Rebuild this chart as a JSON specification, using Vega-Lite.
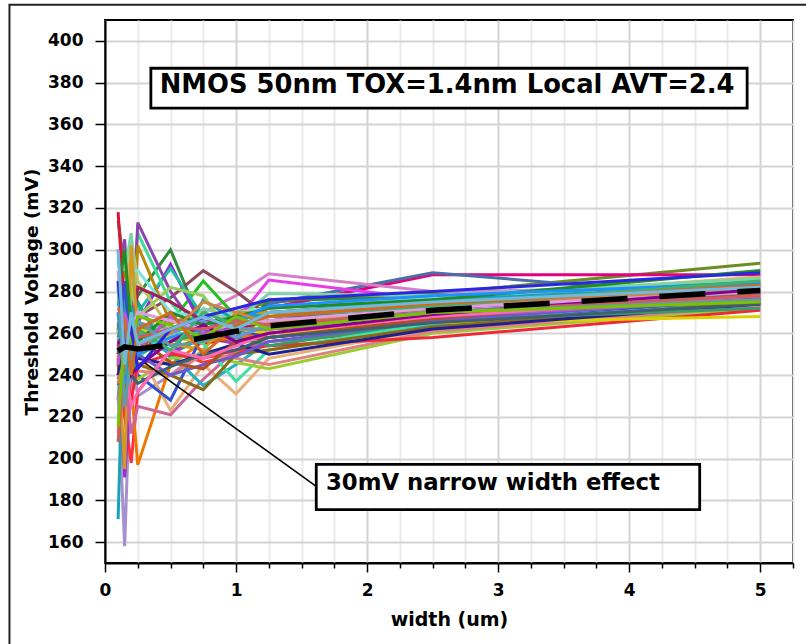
{
"$schema":"https://vega.github.io/schema/vega-lite/v6.json",
"width":688,"height":543,
"autosize":{"type":"none"},
"padding":{"left":105,"top":20,"right":13,"bottom":81},
"background":"white",
"config":{"view":{"stroke":"#000","strokeWidth":2},"font":"DejaVu Sans"},
"datasets":{
"curves":[
{"s":"s01","x":0.1,"v":240},{"s":"s01","x":0.15,"v":250},{"s":"s01","x":0.2,"v":270},{"s":"s01","x":0.25,"v":262},{"s":"s01","x":0.5,"v":265},{"s":"s01","x":0.75,"v":268},{"s":"s01","x":1,"v":270},{"s":"s01","x":1.25,"v":275},{"s":"s01","x":2.5,"v":279},{"s":"s01","x":5,"v":293.5},
{"s":"s02","x":0.1,"v":262},{"s":"s02","x":0.15,"v":245},{"s":"s02","x":0.2,"v":258},{"s":"s02","x":0.25,"v":250},{"s":"s02","x":0.5,"v":262},{"s":"s02","x":0.75,"v":265},{"s":"s02","x":1,"v":268},{"s":"s02","x":1.25,"v":272},{"s":"s02","x":2.5,"v":288},{"s":"s02","x":5,"v":288},
{"s":"s03","x":0.1,"v":240},{"s":"s03","x":0.15,"v":262},{"s":"s03","x":0.2,"v":248},{"s":"s03","x":0.25,"v":255},{"s":"s03","x":0.5,"v":258},{"s":"s03","x":0.75,"v":262},{"s":"s03","x":1,"v":264},{"s":"s03","x":1.25,"v":274},{"s":"s03","x":2.5,"v":289},{"s":"s03","x":5,"v":276},
{"s":"s04","x":0.1,"v":258},{"s":"s04","x":0.15,"v":268},{"s":"s04","x":0.2,"v":250},{"s":"s04","x":0.25,"v":265},{"s":"s04","x":0.5,"v":262},{"s":"s04","x":0.75,"v":270},{"s":"s04","x":1,"v":278},{"s":"s04","x":1.25,"v":288.5},{"s":"s04","x":2.5,"v":280},{"s":"s04","x":5,"v":282},
{"s":"s05","x":0.1,"v":255},{"s":"s05","x":0.15,"v":240},{"s":"s05","x":0.2,"v":262},{"s":"s05","x":0.25,"v":258},{"s":"s05","x":0.5,"v":260},{"s":"s05","x":0.75,"v":258},{"s":"s05","x":1,"v":266},{"s":"s05","x":1.25,"v":285.5},{"s":"s05","x":2.5,"v":276},{"s":"s05","x":5,"v":279},
{"s":"s06","x":0.1,"v":314},{"s":"s06","x":0.15,"v":290},{"s":"s06","x":0.2,"v":270},{"s":"s06","x":0.25,"v":278},{"s":"s06","x":0.5,"v":300},{"s":"s06","x":0.75,"v":262},{"s":"s06","x":1,"v":258},{"s":"s06","x":1.25,"v":276},{"s":"s06","x":2.5,"v":277},{"s":"s06","x":5,"v":285},
{"s":"s07","x":0.1,"v":250},{"s":"s07","x":0.15,"v":285},{"s":"s07","x":0.2,"v":262},{"s":"s07","x":0.25,"v":268},{"s":"s07","x":0.5,"v":277},{"s":"s07","x":0.75,"v":290},{"s":"s07","x":1,"v":280},{"s":"s07","x":1.25,"v":268},{"s":"s07","x":2.5,"v":270},{"s":"s07","x":5,"v":278},
{"s":"s08","x":0.1,"v":270},{"s":"s08","x":0.15,"v":252},{"s":"s08","x":0.2,"v":246},{"s":"s08","x":0.25,"v":258},{"s":"s08","x":0.5,"v":265},{"s":"s08","x":0.75,"v":285},{"s":"s08","x":1,"v":268},{"s":"s08","x":1.25,"v":270},{"s":"s08","x":2.5,"v":274},{"s":"s08","x":5,"v":283},
{"s":"s09","x":0.1,"v":300},{"s":"s09","x":0.15,"v":262},{"s":"s09","x":0.2,"v":280},{"s":"s09","x":0.25,"v":265},{"s":"s09","x":0.5,"v":293},{"s":"s09","x":0.75,"v":262},{"s":"s09","x":1,"v":256},{"s":"s09","x":1.25,"v":262},{"s":"s09","x":2.5,"v":268},{"s":"s09","x":5,"v":276},
{"s":"s10","x":0.1,"v":228},{"s":"s10","x":0.15,"v":276},{"s":"s10","x":0.2,"v":258},{"s":"s10","x":0.25,"v":270},{"s":"s10","x":0.5,"v":291},{"s":"s10","x":0.75,"v":268},{"s":"s10","x":1,"v":262},{"s":"s10","x":1.25,"v":270},{"s":"s10","x":2.5,"v":275},{"s":"s10","x":5,"v":282},
{"s":"s11","x":0.1,"v":296},{"s":"s11","x":0.15,"v":270},{"s":"s11","x":0.2,"v":275},{"s":"s11","x":0.25,"v":308},{"s":"s11","x":0.5,"v":275},{"s":"s11","x":0.75,"v":256},{"s":"s11","x":1,"v":262},{"s":"s11","x":1.25,"v":266},{"s":"s11","x":2.5,"v":270},{"s":"s11","x":5,"v":279},
{"s":"s12","x":0.1,"v":282},{"s":"s12","x":0.15,"v":305},{"s":"s12","x":0.2,"v":248},{"s":"s12","x":0.25,"v":313},{"s":"s12","x":0.5,"v":280},{"s":"s12","x":0.75,"v":258},{"s":"s12","x":1,"v":255},{"s":"s12","x":1.25,"v":264},{"s":"s12","x":2.5,"v":272},{"s":"s12","x":5,"v":281},
{"s":"s13","x":0.1,"v":260},{"s":"s13","x":0.15,"v":300},{"s":"s13","x":0.2,"v":240},{"s":"s13","x":0.25,"v":302},{"s":"s13","x":0.5,"v":265},{"s":"s13","x":0.75,"v":270},{"s":"s13","x":1,"v":256},{"s":"s13","x":1.25,"v":270},{"s":"s13","x":2.5,"v":273},{"s":"s13","x":5,"v":284},
{"s":"s14","x":0.1,"v":288},{"s":"s14","x":0.15,"v":260},{"s":"s14","x":0.2,"v":306},{"s":"s14","x":0.25,"v":285},{"s":"s14","x":0.5,"v":262},{"s":"s14","x":0.75,"v":270},{"s":"s14","x":1,"v":264},{"s":"s14","x":1.25,"v":268},{"s":"s14","x":2.5,"v":276},{"s":"s14","x":5,"v":287},
{"s":"s15","x":0.1,"v":300},{"s":"s15","x":0.15,"v":290},{"s":"s15","x":0.2,"v":308},{"s":"s15","x":0.25,"v":270},{"s":"s15","x":0.5,"v":258},{"s":"s15","x":0.75,"v":272},{"s":"s15","x":1,"v":266},{"s":"s15","x":1.25,"v":279},{"s":"s15","x":2.5,"v":278},{"s":"s15","x":5,"v":286},
{"s":"s16","x":0.1,"v":318},{"s":"s16","x":0.15,"v":270},{"s":"s16","x":0.2,"v":255},{"s":"s16","x":0.25,"v":250},{"s":"s16","x":0.5,"v":262},{"s":"s16","x":0.75,"v":255},{"s":"s16","x":1,"v":258},{"s":"s16","x":1.25,"v":262},{"s":"s16","x":2.5,"v":265},{"s":"s16","x":5,"v":274},
{"s":"s17","x":0.1,"v":276},{"s":"s17","x":0.15,"v":262},{"s":"s17","x":0.2,"v":290},{"s":"s17","x":0.25,"v":290},{"s":"s17","x":0.5,"v":270},{"s":"s17","x":0.75,"v":268},{"s":"s17","x":1,"v":270},{"s":"s17","x":1.25,"v":272},{"s":"s17","x":2.5,"v":277},{"s":"s17","x":5,"v":281},
{"s":"s18","x":0.1,"v":262},{"s":"s18","x":0.15,"v":281},{"s":"s18","x":0.2,"v":250},{"s":"s18","x":0.25,"v":275},{"s":"s18","x":0.5,"v":248},{"s":"s18","x":0.75,"v":276},{"s":"s18","x":1,"v":266},{"s":"s18","x":1.25,"v":270},{"s":"s18","x":2.5,"v":273},{"s":"s18","x":5,"v":280},
{"s":"s19","x":0.1,"v":252},{"s":"s19","x":0.15,"v":272},{"s":"s19","x":0.2,"v":282},{"s":"s19","x":0.25,"v":268},{"s":"s19","x":0.5,"v":282},{"s":"s19","x":0.75,"v":278},{"s":"s19","x":1,"v":256},{"s":"s19","x":1.25,"v":262},{"s":"s19","x":2.5,"v":269},{"s":"s19","x":5,"v":277},
{"s":"s20","x":0.1,"v":268},{"s":"s20","x":0.15,"v":280},{"s":"s20","x":0.2,"v":255},{"s":"s20","x":0.25,"v":282},{"s":"s20","x":0.5,"v":275},{"s":"s20","x":0.75,"v":266},{"s":"s20","x":1,"v":262},{"s":"s20","x":1.25,"v":266},{"s":"s20","x":2.5,"v":272},{"s":"s20","x":5,"v":280},
{"s":"s21","x":0.1,"v":230},{"s":"s21","x":0.15,"v":158},{"s":"s21","x":0.2,"v":250},{"s":"s21","x":0.25,"v":230},{"s":"s21","x":0.5,"v":240},{"s":"s21","x":0.75,"v":252},{"s":"s21","x":1,"v":250},{"s":"s21","x":1.25,"v":258},{"s":"s21","x":2.5,"v":266},{"s":"s21","x":5,"v":276},
{"s":"s22","x":0.1,"v":171},{"s":"s22","x":0.15,"v":280},{"s":"s22","x":0.2,"v":272},{"s":"s22","x":0.25,"v":265},{"s":"s22","x":0.5,"v":250},{"s":"s22","x":0.75,"v":258},{"s":"s22","x":1,"v":268},{"s":"s22","x":1.25,"v":270},{"s":"s22","x":2.5,"v":276},{"s":"s22","x":5,"v":283},
{"s":"s23","x":0.1,"v":245},{"s":"s23","x":0.15,"v":220},{"s":"s23","x":0.2,"v":198},{"s":"s23","x":0.25,"v":232},{"s":"s23","x":0.5,"v":252},{"s":"s23","x":0.75,"v":246},{"s":"s23","x":1,"v":250},{"s":"s23","x":1.25,"v":256},{"s":"s23","x":2.5,"v":262},{"s":"s23","x":5,"v":273},
{"s":"s24","x":0.1,"v":238},{"s":"s24","x":0.15,"v":250},{"s":"s24","x":0.2,"v":235},{"s":"s24","x":0.25,"v":197},{"s":"s24","x":0.5,"v":245},{"s":"s24","x":0.75,"v":256},{"s":"s24","x":1,"v":258},{"s":"s24","x":1.25,"v":260},{"s":"s24","x":2.5,"v":266},{"s":"s24","x":5,"v":277},
{"s":"s25","x":0.1,"v":248},{"s":"s25","x":0.15,"v":191},{"s":"s25","x":0.2,"v":238},{"s":"s25","x":0.25,"v":262},{"s":"s25","x":0.5,"v":250},{"s":"s25","x":0.75,"v":260},{"s":"s25","x":1,"v":264},{"s":"s25","x":1.25,"v":266},{"s":"s25","x":2.5,"v":272},{"s":"s25","x":5,"v":279},
{"s":"s26","x":0.1,"v":250},{"s":"s26","x":0.15,"v":195},{"s":"s26","x":0.2,"v":302},{"s":"s26","x":0.25,"v":260},{"s":"s26","x":0.5,"v":255},{"s":"s26","x":0.75,"v":252},{"s":"s26","x":1,"v":270},{"s":"s26","x":1.25,"v":270},{"s":"s26","x":2.5,"v":274},{"s":"s26","x":5,"v":283},
{"s":"s27","x":0.1,"v":258},{"s":"s27","x":0.15,"v":235},{"s":"s27","x":0.2,"v":255},{"s":"s27","x":0.25,"v":252},{"s":"s27","x":0.5,"v":223},{"s":"s27","x":0.75,"v":245},{"s":"s27","x":1,"v":231},{"s":"s27","x":1.25,"v":248},{"s":"s27","x":2.5,"v":262},{"s":"s27","x":5,"v":275},
{"s":"s28","x":0.1,"v":230},{"s":"s28","x":0.15,"v":240},{"s":"s28","x":0.2,"v":212},{"s":"s28","x":0.25,"v":225},{"s":"s28","x":0.5,"v":221},{"s":"s28","x":0.75,"v":238},{"s":"s28","x":1,"v":252},{"s":"s28","x":1.25,"v":256},{"s":"s28","x":2.5,"v":264},{"s":"s28","x":5,"v":274},
{"s":"s29","x":0.1,"v":252},{"s":"s29","x":0.15,"v":285},{"s":"s29","x":0.2,"v":250},{"s":"s29","x":0.25,"v":240},{"s":"s29","x":0.5,"v":228},{"s":"s29","x":0.75,"v":260},{"s":"s29","x":1,"v":262},{"s":"s29","x":1.25,"v":258},{"s":"s29","x":2.5,"v":266},{"s":"s29","x":5,"v":276},
{"s":"s30","x":0.1,"v":275},{"s":"s30","x":0.15,"v":258},{"s":"s30","x":0.2,"v":262},{"s":"s30","x":0.25,"v":260},{"s":"s30","x":0.5,"v":250},{"s":"s30","x":0.75,"v":235},{"s":"s30","x":1,"v":245},{"s":"s30","x":1.25,"v":256},{"s":"s30","x":2.5,"v":264},{"s":"s30","x":5,"v":275},
{"s":"s31","x":0.1,"v":262},{"s":"s31","x":0.15,"v":242},{"s":"s31","x":0.2,"v":258},{"s":"s31","x":0.25,"v":248},{"s":"s31","x":0.5,"v":262},{"s":"s31","x":0.75,"v":255},{"s":"s31","x":1,"v":237},{"s":"s31","x":1.25,"v":252},{"s":"s31","x":2.5,"v":265},{"s":"s31","x":5,"v":278},
{"s":"s32","x":0.1,"v":262},{"s":"s32","x":0.15,"v":255},{"s":"s32","x":0.2,"v":246},{"s":"s32","x":0.25,"v":238},{"s":"s32","x":0.5,"v":248},{"s":"s32","x":0.75,"v":250},{"s":"s32","x":1,"v":246},{"s":"s32","x":1.25,"v":243},{"s":"s32","x":2.5,"v":260},{"s":"s32","x":5,"v":272},
{"s":"s33","x":0.1,"v":240},{"s":"s33","x":0.15,"v":262},{"s":"s33","x":0.2,"v":230},{"s":"s33","x":0.25,"v":242},{"s":"s33","x":0.5,"v":240},{"s":"s33","x":0.75,"v":250},{"s":"s33","x":1,"v":248},{"s":"s33","x":1.25,"v":245},{"s":"s33","x":2.5,"v":261},{"s":"s33","x":5,"v":273},
{"s":"s34","x":0.1,"v":255},{"s":"s34","x":0.15,"v":245},{"s":"s34","x":0.2,"v":228},{"s":"s34","x":0.25,"v":245},{"s":"s34","x":0.5,"v":250},{"s":"s34","x":0.75,"v":248},{"s":"s34","x":1,"v":252},{"s":"s34","x":1.25,"v":254},{"s":"s34","x":2.5,"v":258},{"s":"s34","x":5,"v":271},
{"s":"s35","x":0.1,"v":265},{"s":"s35","x":0.15,"v":258},{"s":"s35","x":0.2,"v":262},{"s":"s35","x":0.25,"v":262},{"s":"s35","x":0.5,"v":258},{"s":"s35","x":0.75,"v":256},{"s":"s35","x":1,"v":262},{"s":"s35","x":1.25,"v":260},{"s":"s35","x":2.5,"v":265},{"s":"s35","x":5,"v":268},
{"s":"s36","x":0.1,"v":245},{"s":"s36","x":0.15,"v":230},{"s":"s36","x":0.2,"v":256},{"s":"s36","x":0.25,"v":245},{"s":"s36","x":0.5,"v":240},{"s":"s36","x":0.75,"v":233},{"s":"s36","x":1,"v":250},{"s":"s36","x":1.25,"v":252},{"s":"s36","x":2.5,"v":263},{"s":"s36","x":5,"v":275},
{"s":"s37","x":0.1,"v":240},{"s":"s37","x":0.15,"v":255},{"s":"s37","x":0.2,"v":245},{"s":"s37","x":0.25,"v":248},{"s":"s37","x":0.5,"v":245},{"s":"s37","x":0.75,"v":250},{"s":"s37","x":1,"v":255},{"s":"s37","x":1.25,"v":250},{"s":"s37","x":2.5,"v":262},{"s":"s37","x":5,"v":274},
{"s":"s38","x":0.1,"v":258},{"s":"s38","x":0.15,"v":265},{"s":"s38","x":0.2,"v":238},{"s":"s38","x":0.25,"v":250},{"s":"s38","x":0.5,"v":256},{"s":"s38","x":0.75,"v":260},{"s":"s38","x":1,"v":258},{"s":"s38","x":1.25,"v":254},{"s":"s38","x":2.5,"v":266},{"s":"s38","x":5,"v":272},
{"s":"s39","x":0.1,"v":235},{"s":"s39","x":0.15,"v":245},{"s":"s39","x":0.2,"v":252},{"s":"s39","x":0.25,"v":250},{"s":"s39","x":0.5,"v":240},{"s":"s39","x":0.75,"v":245},{"s":"s39","x":1,"v":249},{"s":"s39","x":1.25,"v":256},{"s":"s39","x":2.5,"v":266},{"s":"s39","x":5,"v":277},
{"s":"s40","x":0.1,"v":265},{"s":"s40","x":0.15,"v":250},{"s":"s40","x":0.2,"v":248},{"s":"s40","x":0.25,"v":258},{"s":"s40","x":0.5,"v":246},{"s":"s40","x":0.75,"v":243},{"s":"s40","x":1,"v":256},{"s":"s40","x":1.25,"v":258},{"s":"s40","x":2.5,"v":267},{"s":"s40","x":5,"v":279},
{"s":"s41","x":0.1,"v":220},{"s":"s41","x":0.15,"v":228},{"s":"s41","x":0.2,"v":242},{"s":"s41","x":0.25,"v":255},{"s":"s41","x":0.5,"v":260},{"s":"s41","x":0.75,"v":266},{"s":"s41","x":1,"v":258},{"s":"s41","x":1.25,"v":264},{"s":"s41","x":2.5,"v":270},{"s":"s41","x":5,"v":280},
{"s":"s42","x":0.1,"v":245},{"s":"s42","x":0.15,"v":270},{"s":"s42","x":0.2,"v":258},{"s":"s42","x":0.25,"v":252},{"s":"s42","x":0.5,"v":268},{"s":"s42","x":0.75,"v":260},{"s":"s42","x":1,"v":262},{"s":"s42","x":1.25,"v":262},{"s":"s42","x":2.5,"v":268},{"s":"s42","x":5,"v":276},
{"s":"s43","x":0.1,"v":250},{"s":"s43","x":0.15,"v":262},{"s":"s43","x":0.2,"v":240},{"s":"s43","x":0.25,"v":236},{"s":"s43","x":0.5,"v":244},{"s":"s43","x":0.75,"v":250},{"s":"s43","x":1,"v":252},{"s":"s43","x":1.25,"v":258},{"s":"s43","x":2.5,"v":265},{"s":"s43","x":5,"v":274},
{"s":"s44","x":0.1,"v":212},{"s":"s44","x":0.15,"v":245},{"s":"s44","x":0.2,"v":225},{"s":"s44","x":0.25,"v":232},{"s":"s44","x":0.5,"v":252},{"s":"s44","x":0.75,"v":248},{"s":"s44","x":1,"v":254},{"s":"s44","x":1.25,"v":260},{"s":"s44","x":2.5,"v":268},{"s":"s44","x":5,"v":278},
{"s":"s45","x":0.1,"v":280},{"s":"s45","x":0.15,"v":300},{"s":"s45","x":0.2,"v":262},{"s":"s45","x":0.25,"v":256},{"s":"s45","x":0.5,"v":270},{"s":"s45","x":0.75,"v":264},{"s":"s45","x":1,"v":268},{"s":"s45","x":1.25,"v":272},{"s":"s45","x":2.5,"v":276},{"s":"s45","x":5,"v":290},
{"s":"s46","x":0.1,"v":270},{"s":"s46","x":0.15,"v":236},{"s":"s46","x":0.2,"v":255},{"s":"s46","x":0.25,"v":250},{"s":"s46","x":0.5,"v":258},{"s":"s46","x":0.75,"v":262},{"s":"s46","x":1,"v":266},{"s":"s46","x":1.25,"v":273},{"s":"s46","x":2.5,"v":278},{"s":"s46","x":5,"v":284},
{"s":"s47","x":0.1,"v":236},{"s":"s47","x":0.15,"v":248},{"s":"s47","x":0.2,"v":266},{"s":"s47","x":0.25,"v":255},{"s":"s47","x":0.5,"v":260},{"s":"s47","x":0.75,"v":275},{"s":"s47","x":1,"v":270},{"s":"s47","x":1.25,"v":265},{"s":"s47","x":2.5,"v":272},{"s":"s47","x":5,"v":282},
{"s":"s48","x":0.1,"v":290},{"s":"s48","x":0.15,"v":252},{"s":"s48","x":0.2,"v":262},{"s":"s48","x":0.25,"v":270},{"s":"s48","x":0.5,"v":266},{"s":"s48","x":0.75,"v":262},{"s":"s48","x":1,"v":264},{"s":"s48","x":1.25,"v":266},{"s":"s48","x":2.5,"v":272},{"s":"s48","x":5,"v":280},
{"s":"s49","x":0.1,"v":255},{"s":"s49","x":0.15,"v":260},{"s":"s49","x":0.2,"v":240},{"s":"s49","x":0.25,"v":244},{"s":"s49","x":0.5,"v":256},{"s":"s49","x":0.75,"v":264},{"s":"s49","x":1,"v":256},{"s":"s49","x":1.25,"v":260},{"s":"s49","x":2.5,"v":269},{"s":"s49","x":5,"v":281},
{"s":"s50","x":0.1,"v":282},{"s":"s50","x":0.15,"v":240},{"s":"s50","x":0.2,"v":268},{"s":"s50","x":0.25,"v":262},{"s":"s50","x":0.5,"v":252},{"s":"s50","x":0.75,"v":270},{"s":"s50","x":1,"v":264},{"s":"s50","x":1.25,"v":268},{"s":"s50","x":2.5,"v":273},{"s":"s50","x":5,"v":285},
{"s":"s51","x":0.1,"v":208},{"s":"s51","x":0.15,"v":250},{"s":"s51","x":0.2,"v":262},{"s":"s51","x":0.25,"v":258},{"s":"s51","x":0.5,"v":262},{"s":"s51","x":0.75,"v":262},{"s":"s51","x":1,"v":266},{"s":"s51","x":1.25,"v":264},{"s":"s51","x":2.5,"v":270},{"s":"s51","x":5,"v":278},
{"s":"s52","x":0.1,"v":285},{"s":"s52","x":0.15,"v":225},{"s":"s52","x":0.2,"v":250},{"s":"s52","x":0.25,"v":266},{"s":"s52","x":0.5,"v":254},{"s":"s52","x":0.75,"v":256},{"s":"s52","x":1,"v":262},{"s":"s52","x":1.25,"v":262},{"s":"s52","x":2.5,"v":270},{"s":"s52","x":5,"v":276},
{"s":"s53","x":0.1,"v":215},{"s":"s53","x":0.15,"v":262},{"s":"s53","x":0.2,"v":256},{"s":"s53","x":0.25,"v":268},{"s":"s53","x":0.5,"v":264},{"s":"s53","x":0.75,"v":258},{"s":"s53","x":1,"v":268},{"s":"s53","x":1.25,"v":262},{"s":"s53","x":2.5,"v":270},{"s":"s53","x":5,"v":275},
{"s":"s54","x":0.1,"v":285},{"s":"s54","x":0.15,"v":256},{"s":"s54","x":0.2,"v":262},{"s":"s54","x":0.25,"v":243},{"s":"s54","x":0.5,"v":262},{"s":"s54","x":0.75,"v":268},{"s":"s54","x":1,"v":272},{"s":"s54","x":1.25,"v":276},{"s":"s54","x":2.5,"v":280},{"s":"s54","x":5,"v":289},
{"s":"s55","x":0.1,"v":272},{"s":"s55","x":0.15,"v":266},{"s":"s55","x":0.2,"v":240},{"s":"s55","x":0.25,"v":262},{"s":"s55","x":0.5,"v":270},{"s":"s55","x":0.75,"v":250},{"s":"s55","x":1,"v":264},{"s":"s55","x":1.25,"v":268},{"s":"s55","x":2.5,"v":274},{"s":"s55","x":5,"v":283},
{"s":"s56","x":0.1,"v":300},{"s":"s56","x":0.15,"v":245},{"s":"s56","x":0.2,"v":270},{"s":"s56","x":0.25,"v":255},{"s":"s56","x":0.5,"v":262},{"s":"s56","x":0.75,"v":268},{"s":"s56","x":1,"v":262},{"s":"s56","x":1.25,"v":270},{"s":"s56","x":2.5,"v":275},{"s":"s56","x":5,"v":282}
],
"mean":[
{"x":0.1,"v":251.5},{"x":0.15,"v":253.5},{"x":0.2,"v":253},{"x":0.25,"v":252.5},{"x":0.5,"v":254.5},{"x":0.75,"v":258},{"x":1,"v":261},{"x":1.25,"v":263.5},{"x":2.5,"v":271},{"x":5,"v":280.5}
],
"pointer":[{"x":0.304,"v":245.8,"x2":1.612,"v2":186.7}],
"boxes":[
{"x":0.35,"x2":4.9,"v":386.9,"v2":367.8},
{"x":1.612,"x2":4.538,"v":197.2,"v2":175.6}
],
"title1":[{"x":0.418,"v":375.0,"t":"NMOS 50nm TOX=1.4nm Local AVT=2.4"}],
"title2":[{"x":1.686,"v":184.9,"t":"30mV narrow width effect"}],
"frame":[{"x":-0.729,"x2":7,"v":417.3,"v2":60}]
},
"encoding":{
"x":{"field":"x","type":"quantitative","scale":{"domain":[0,5.25],"nice":false,"zero":false},
"axis":{"values":[0,0.25,0.5,0.75,1,1.25,1.5,1.75,2,2.25,2.5,2.75,3,3.25,3.5,3.75,4,4.25,4.5,4.75,5,5.25],
"title":"width (um)",
"labelExpr":"datum.value % 1 === 0 ? format(datum.value, 'd') : ''",
"grid":true,
"gridColor":{"condition":{"test":"datum.value % 1 === 0","value":"#d4d4d4"},"value":"#ebebeb"},
"gridWidth":2,
"tickSize":{"condition":{"test":"datum.value % 1 === 0","value":9},"value":5},
"tickColor":"#000","tickWidth":1.5,
"domainColor":"#000","domainWidth":2,
"labelFont":"DejaVu Sans","labelFontWeight":"bold","labelFontSize":17,"labelColor":"#000","labelPadding":10,"labelFlush":false,"labelOverlap":false,
"titleFont":"DejaVu Sans","titleFontWeight":"bold","titleFontSize":19,"titleColor":"#000","titlePadding":12}},
"y":{"field":"v","type":"quantitative","scale":{"domain":[150,410],"nice":false,"zero":false},
"axis":{"values":[160,180,200,220,240,260,280,300,320,340,360,380,400],
"title":"Threshold Voltage (mV)",
"grid":true,"gridColor":"#d4d4d4","gridWidth":2,
"tickSize":10,"tickColor":"#000","tickWidth":1.5,
"domainColor":"#000","domainWidth":2,
"labelFont":"DejaVu Sans","labelFontWeight":"bold","labelFontSize":17,"labelColor":"#000","labelPadding":12,
"titleFont":"DejaVu Sans","titleFontWeight":"bold","titleFontSize":18.5,"titleColor":"#000","titlePadding":6}}
},
"layer":[
{
"data":{"name":"curves"},
"mark":{"type":"line","strokeWidth":3,"clip":true},
"encoding":{
"color":{"field":"s","type":"nominal","legend":null,
"scale":{"domain":["s01","s02","s03","s04","s05","s06","s07","s08","s09","s10","s11","s12","s13","s14","s15","s16","s17","s18","s19","s20","s21","s22","s23","s24","s25","s26","s27","s28","s29","s30","s31","s32","s33","s34","s35","s36","s37","s38","s39","s40","s41","s42","s43","s44","s45","s46","s47","s48","s49","s50","s51","s52","s53","s54","s55","s56"],
"range":["#6b8e23","#e6007e","#4a6fa5","#d67fc6","#e83ae8","#2e8b3a","#8b4a5a","#22c020","#8a2be2","#20c0a0","#3ddc97","#8e44ad","#b8860b","#c8c060","#7fd3a8","#dc143c","#80e0e0","#20a0a0","#9acd60","#a0205a","#a890d0","#1aa3b0","#ff3040","#ee7700","#9932cc","#d49a20","#e8b078","#cc6699","#3050d0","#20b0c0","#40e0a0","#9acd32","#e08080","#ee2a3a","#e0d000","#8b6914","#202090","#3a9a6a","#6a5acd","#b05020","#6495ed","#ba55d3","#406070","#ff69b4","#228b22","#1e90ff","#cd853f","#dda0dd","#8b008b","#3cb371","#cd5c5c","#5f9ea0","#7cc000","#2828e0","#d2691e","#70b8e0"]}},
"order":{"field":"x","type":"quantitative"}
}
},
{
"data":{"name":"mean"},
"mark":{"type":"line","color":"#000","strokeWidth":5.5,"strokeDash":[46,32]},
"encoding":{}
},
{
"data":{"name":"pointer"},
"mark":{"type":"rule","color":"#000","strokeWidth":1.5},
"encoding":{"x2":{"field":"x2"},"y2":{"field":"v2"}}
},
{
"data":{"name":"boxes"},
"mark":{"type":"rect","fill":"#fff","stroke":"#000","strokeWidth":2.8},
"encoding":{"x2":{"field":"x2"},"y2":{"field":"v2"}}
},
{
"data":{"name":"title1"},
"mark":{"type":"text","align":"left","baseline":"alphabetic","font":"DejaVu Sans","fontWeight":"bold","fontSize":25.8,"color":"#000"},
"encoding":{"text":{"field":"t"}}
},
{
"data":{"name":"title2"},
"mark":{"type":"text","align":"left","baseline":"alphabetic","font":"DejaVu Sans","fontWeight":"bold","fontSize":22.8,"color":"#000"},
"encoding":{"text":{"field":"t"}}
},
{
"data":{"name":"frame"},
"mark":{"type":"rect","fill":null,"fillOpacity":0,"stroke":"#222","strokeWidth":2},
"encoding":{"x2":{"field":"x2"},"y2":{"field":"v2"}}
}
]
}
